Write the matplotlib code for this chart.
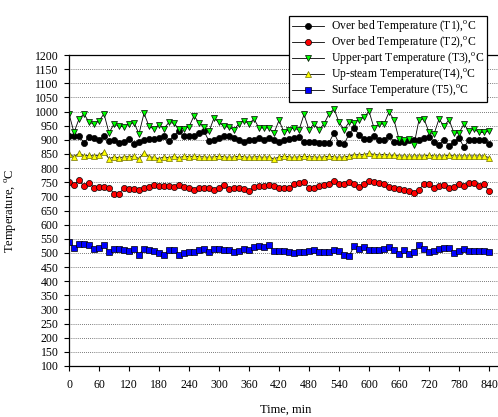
import numpy as np
import matplotlib
matplotlib.use("Agg")
import matplotlib.pyplot as plt

plt.rcParams['font.family'] = ['Liberation Serif', 'DejaVu Serif']
plt.rcParams['mathtext.fontset'] = 'custom'
plt.rcParams['mathtext.rm'] = 'Liberation Serif'

time_min = np.arange(0, 850, 10)

t1_over_bed = [914, 914, 912, 890, 910, 906, 900, 912, 896, 900, 890, 894, 902, 886,
               893, 898, 902, 902, 907, 912, 895, 915, 930, 912, 912, 914, 924, 930,
               896, 900, 905, 912, 912, 908, 900, 894, 898, 898, 906, 898, 906, 900,
               892, 898, 903, 906, 910, 893, 893, 892, 890, 888, 890, 924, 888, 884, 920,
               942, 918, 902, 904, 912, 898, 900, 914, 893, 893, 893, 900, 900, 898,
               906, 909, 894, 881, 900, 879, 893, 906, 874, 900, 900, 898, 900, 886]
t2_over_bed = [751, 740, 757, 736, 748, 731, 733, 733, 731, 710, 710, 728, 726, 726,
               724, 731, 733, 739, 738, 736, 736, 733, 739, 733, 729, 721, 731, 731,
               731, 721, 731, 739, 726, 729, 731, 726, 719, 733, 737, 736, 739, 736,
               731, 729, 731, 743, 748, 751, 729, 731, 736, 739, 745, 755, 743, 743, 751,
               743, 733, 743, 755, 751, 748, 743, 733, 731, 726, 721, 719, 712, 724,
               743, 743, 731, 736, 739, 729, 733, 743, 736, 748, 748, 736, 743, 719]
t3_upper = [992, 926, 974, 992, 962, 956, 967, 992, 924, 956, 948, 946, 956, 960,
            921, 994, 948, 938, 954, 940, 962, 958, 938, 940, 946, 985, 960, 945,
            930, 977, 962, 948, 944, 936, 957, 968, 957, 974, 942, 942, 942, 924,
            969, 927, 936, 942, 934, 990, 936, 956, 936, 956, 992, 1010, 962, 936, 962,
            960, 971, 980, 1001, 942, 956, 956, 998, 971, 902, 900, 902, 882, 971,
            974, 927, 920, 974, 948, 971, 924, 924, 956, 930, 938, 926, 926, 930]
t4_upsteam = [850, 840, 852, 843, 845, 843, 845, 857, 833, 840, 836, 840, 840, 843,
              833, 855, 840, 838, 833, 840, 836, 843, 836, 843, 840, 843, 840, 840,
              838, 840, 842, 840, 838, 840, 842, 840, 838, 840, 840, 838, 840, 832,
              840, 842, 840, 838, 840, 842, 840, 840, 838, 840, 842, 840, 838, 840, 842,
              848, 846, 848, 852, 848, 846, 848, 846, 845, 843, 843, 842, 843, 843,
              843, 845, 843, 843, 843, 845, 843, 843, 843, 843, 843, 843, 843, 837]
t5_surface = [539, 518, 533, 530, 527, 515, 518, 527, 502, 515,
              515, 512, 506, 515, 494, 515, 512, 506, 498, 492,
              512, 512, 494, 500, 502, 502, 509, 515, 503, 515,
              515, 509, 509, 502, 506, 515, 509, 521, 526, 521,
              527, 506, 506, 506, 502, 500, 502, 502, 506, 509,
              502, 502, 503, 509, 506, 494, 488, 524, 515, 521,
              512, 509, 509, 515, 521, 509, 497, 509, 497, 503,
              527, 515, 503, 506, 515, 518, 518, 500, 506, 515,
              506, 506, 506, 506, 503]

labels = ["Over bed Temperature (T1),$^{\\rm o}$C",
          "Over bed Temperature (T2),$^{\\rm o}$C",
          "Upper-part Temperature (T3),$^{\\rm o}$C",
          "Up-steam Temperature(T4),$^{\\rm o}$C",
          "Surface Temperature (T5),$^{\\rm o}$C"]

fig = plt.figure(figsize=(4.98, 4.17), dpi=100)
ax = fig.add_axes([69 / 498, 1 - 366 / 417, 434 / 498, 311 / 417])

styles = [
    (t1_over_bed, "o", "black", "black"),
    (t2_over_bed, "o", "red", "black"),
    (t3_upper, "v", "#00ff00", "black"),
    (t4_upsteam, "^", "yellow", "#707000"),
    (t5_surface, "s", "#0000ff", "black"),
]
for (vals, mk, fc, ec), lab in zip(styles, labels):
    ax.plot(time_min, vals, color="black", lw=0.6, marker=mk, ms=4.4,
            mfc=fc, mec=ec, mew=0.5, label=lab)

ax.set_xlim(0, 868)
ax.set_ylim(100, 1200)
ax.set_xticks(np.arange(0, 841, 60))
ax.set_yticks(np.arange(100, 1201, 50))
ax.tick_params(direction="out", length=3.5, width=0.8, labelsize=8.5, pad=4)
ax.tick_params(axis="x", pad=6)
ax.yaxis.grid(True, linestyle=(0, (1, 2)), color="black", lw=0.5)
ax.set_axisbelow(True)
for s in ax.spines.values():
    s.set_linewidth(0.9)

ax.set_xlabel("Time, min", fontsize=9, labelpad=9)
ax.set_ylabel("Temperature, $^{\\rm o}$C", fontsize=9, labelpad=11)

leg = ax.legend(loc="upper right", bbox_to_anchor=(493 / 498, 1 - 10 / 417),
                bbox_transform=fig.transFigure, fontsize=8.4, frameon=True,
                fancybox=False, edgecolor="black", framealpha=1,
                handlelength=2.7, borderpad=0.25, labelspacing=0.0,
                handletextpad=0.6)
leg.get_frame().set_linewidth(0.9)

fig.savefig("out.png", dpi=100)
